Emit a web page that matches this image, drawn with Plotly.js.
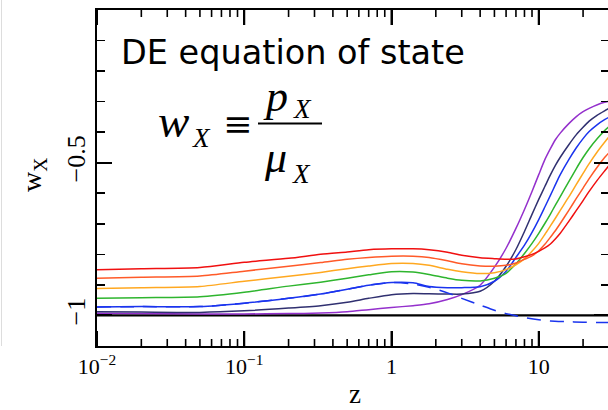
<!DOCTYPE html>
<html><head><meta charset="utf-8">
<script src="https://cdn.plot.ly/plotly-3.0.1.min.js"></script>
<style>html,body{margin:0;padding:0;overflow:hidden;background:#fff}#chart{width:612px;height:410px}</style>
</head><body><div id="chart"></div>
<script>
// redshift grid
const z = [0.01, 0.02, 0.05, 0.1, 0.2, 0.33, 0.5, 0.7, 1, 1.4, 1.8, 2.4, 3, 4, 5, 6, 7, 8, 9, 10, 11, 12, 13, 14, 16, 18, 20, 22, 25, 28, 30];
// w_X for each model
const wRed = [-0.850, -0.847, -0.843, -0.826, -0.813, -0.800, -0.792, -0.785, -0.782, -0.782, -0.785, -0.793, -0.803, -0.811, -0.814, -0.816, -0.815, -0.808, -0.800, -0.790, -0.779, -0.766, -0.749, -0.731, -0.692, -0.656, -0.624, -0.594, -0.557, -0.527, -0.509];
const wOrangeRed = [-0.878, -0.875, -0.871, -0.855, -0.839, -0.827, -0.816, -0.810, -0.806, -0.806, -0.810, -0.821, -0.831, -0.838, -0.839, -0.836, -0.828, -0.816, -0.805, -0.788, -0.767, -0.744, -0.722, -0.699, -0.656, -0.617, -0.583, -0.552, -0.514, -0.483, -0.467];
const wOrange = [-0.912, -0.909, -0.905, -0.888, -0.872, -0.859, -0.847, -0.838, -0.830, -0.830, -0.836, -0.849, -0.857, -0.863, -0.860, -0.850, -0.834, -0.815, -0.790, -0.764, -0.735, -0.707, -0.681, -0.656, -0.612, -0.571, -0.535, -0.503, -0.464, -0.433, -0.415];
const wGreen = [-0.944, -0.942, -0.939, -0.924, -0.904, -0.891, -0.878, -0.867, -0.857, -0.858, -0.866, -0.878, -0.885, -0.887, -0.878, -0.862, -0.831, -0.797, -0.764, -0.731, -0.699, -0.668, -0.638, -0.611, -0.562, -0.519, -0.483, -0.454, -0.421, -0.395, -0.382];
const wBlue = [-0.972, -0.971, -0.971, -0.960, -0.944, -0.930, -0.914, -0.901, -0.892, -0.893, -0.905, -0.909, -0.909, -0.906, -0.888, -0.855, -0.810, -0.770, -0.728, -0.686, -0.645, -0.607, -0.571, -0.539, -0.490, -0.451, -0.421, -0.398, -0.375, -0.359, -0.351];
const wNavy = [-0.988, -0.989, -0.990, -0.985, -0.976, -0.968, -0.957, -0.944, -0.932, -0.928, -0.929, -0.930, -0.930, -0.921, -0.888, -0.839, -0.784, -0.725, -0.669, -0.620, -0.578, -0.540, -0.508, -0.482, -0.441, -0.408, -0.384, -0.364, -0.344, -0.330, -0.322];
const wPurple = [-0.993, -0.994, -0.995, -0.995, -0.994, -0.992, -0.988, -0.981, -0.974, -0.968, -0.962, -0.948, -0.932, -0.901, -0.842, -0.780, -0.715, -0.653, -0.594, -0.539, -0.490, -0.454, -0.424, -0.403, -0.372, -0.349, -0.333, -0.322, -0.310, -0.302, -0.299];
// dashed blue model
const zDash = [0.01, 0.02, 0.05, 0.1, 0.2, 0.33, 0.5, 0.7, 1, 1.4, 1.8, 2.4, 3, 4, 5, 6, 7, 8, 10, 12, 15, 20, 25, 30];
const wDash = [-0.972, -0.971, -0.971, -0.960, -0.944, -0.930, -0.914, -0.901, -0.892, -0.897, -0.908, -0.926, -0.944, -0.966, -0.983, -0.994, -1.001, -1.007, -1.014, -1.018, -1.020, -1.022, -1.023, -1.023];
// cosmological constant
const zLambda = [0.01, 30];
const wLambda = [-1, -1];

// tick labels
const xTickVals = [0.01, 0.1, 1, 10];
const xTickText = ['10<sup>\u22122</sup>', '10<sup>\u22121</sup>', '1', '10'];
const yTickVals = [0, -0.5, -1];
const yTickText = ['0', '\u22120.5', '\u22121'];

const series = [
  {w: wPurple, color: '#9430cc'},
  {w: wNavy, color: '#303070'},
  {w: wBlue, color: '#1a34ee'},
  {w: wGreen, color: '#2eb52e'},
  {w: wOrange, color: '#ffa820'},
  {w: wOrangeRed, color: '#ff5a28'},
  {w: wRed, color: '#f01010'}
];

// minor tick positions on the log axis (2..9 in each decade)
const minorX = [];
for (let d = -2; d <= 1; d++) for (let k = 2; k <= 9; k++) { const v = k * Math.pow(10, d); if (v <= 30) minorX.push(v); }

const xRange = [-2, Math.log10(30)];
const yRange = [-1.1, 0];

const L = 97, T = 10, PW = 512, PH = 336;
const px = x => (x - L) / PW;
const py = y => (T + PH - y) / PH;
const unitsPerPx = (yRange[1] - yRange[0]) / PH;

const traces = [{x: zLambda, y: wLambda, mode: 'lines', line: {color: '#000', width: 2.2}, hoverinfo: 'skip'}];
series.forEach(s => traces.push({x: z, y: s.w, mode: 'lines', line: {color: s.color, width: 1.5, shape: 'spline', smoothing: 0.7}, hoverinfo: 'skip'}));
traces.push({x: zDash, y: wDash, mode: 'lines', line: {color: '#1a34ee', width: 1.5, dash: '14px,9px', shape: 'spline', smoothing: 0.7}, hoverinfo: 'skip'});

// x-axis tick marks on bottom and top edges, as short vertical segments through the log scale
function tickSegments(vals, lenPx, width) {
  const len = lenPx * unitsPerPx, xs = [], ys = [];
  vals.forEach(v => {
    xs.push(v, v, null, v, v, null);
    ys.push(yRange[0], yRange[0] + len, null, yRange[1], yRange[1] - len, null);
  });
  return {x: xs, y: ys, mode: 'lines', connectgaps: false, hoverinfo: 'skip', line: {color: '#000', width: width}};
}
traces.push(tickSegments(xTickVals, 15, 2));
traces.push(tickSegments(minorX, 7, 1.6));

const serif = 'Liberation Serif, DejaVu Serif, serif';
const ann = (text, x, y, size, opts) => Object.assign({text: text, xref: 'paper', yref: 'paper', x: px(x), y: py(y), xanchor: 'center', yanchor: 'middle', borderpad: 0, showarrow: false, font: {family: serif, size: size, color: '#000'}}, opts || {});

const layout = {
  width: 612, height: 410,
  margin: {l: L, r: 612 - L - PW, t: T, b: 410 - T - PH, pad: 0},
  paper_bgcolor: '#fff', plot_bgcolor: '#fff',
  showlegend: false,
  xaxis: {
    type: 'log', range: xRange,
    tickmode: 'array', tickvals: xTickVals, ticktext: xTickText,
    ticks: 'inside', ticklen: 15, tickwidth: 2, tickcolor: '#000',
    showline: true, linecolor: '#000', linewidth: 1.8, mirror: 'allticks',
    showgrid: false, zeroline: false,
    tickfont: {family: serif, size: 22, color: '#000'}
  },
  yaxis: {
    range: yRange,
    tickmode: 'array', tickvals: yTickVals, ticktext: yTickText, tickangle: -90,
    ticks: 'inside', ticklen: 15, tickwidth: 2, tickcolor: '#000',
    minor: {tickmode: 'linear', tick0: 0, dtick: 0.1, ticks: 'inside', ticklen: 8, tickwidth: 1.6, tickcolor: '#000', showgrid: false},
    showline: true, linecolor: '#000', linewidth: 1.8, mirror: 'allticks',
    showgrid: false, zeroline: false,
    tickfont: {family: serif, size: 26, color: '#000'}
  },
  shapes: [
    {type: 'line', xref: 'paper', yref: 'paper', x0: px(258), x1: px(322), y0: py(123.5), y1: py(123.5), line: {color: '#000', width: 2}},
    {type: 'line', xref: 'paper', yref: 'paper', x0: px(1.5), x1: px(1.5), y0: py(0), y1: py(346), line: {color: '#dddddd', width: 1}}
  ],
  annotations: [
    ann('z', 355, 410, 27, {yanchor: 'bottom'}),
    ann('w<sub>X</sub>', 33, 175, 28, {textangle: -90}),
    ann('DE equation of state', 120, 52, 33.5, {xanchor: 'left', font: {family: 'DejaVu Sans, Noto Sans, sans-serif', size: 33.5, color: '#000'}}),
    ann('<i>w</i>', 173, 120.7, 47),
    ann('<i>X</i>', 201, 137.8, 27),
    ann('\u2261', 237, 123.5, 35, {font: {family: 'DejaVu Serif, serif', size: 35, color: '#000'}}),
    ann('<i>p</i>', 275, 96, 44),
    ann('<i>X</i>', 302, 108.8, 27),
    ann('<i>\u03bc</i>', 275, 157, 44),
    ann('<i>X</i>', 301, 173.8, 27)
  ]
};

Plotly.newPlot('chart', traces, layout, {staticPlot: true});
</script>
</body></html>
